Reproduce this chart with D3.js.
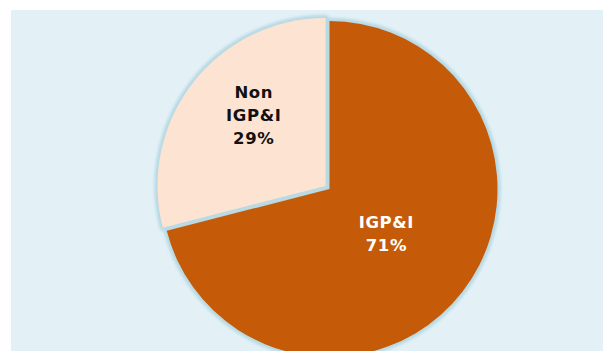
<!DOCTYPE html>
<html>
<head>
<meta charset="utf-8">
<script src="https://cdn.jsdelivr.net/npm/d3@7"></script>
<style>
  html, body { margin: 0; padding: 0; background: #ffffff; }
  svg { display: block; }
</style>
</head>
<body>
<svg id="chart" width="603" height="351"></svg>
<script>
// Share of the total: IGP&I vs Non IGP&I
const categories = ["IGP&I", "Non IGP&I"];
const shares = [71, 29];
const labelLines = [["IGP&I", "71%"], ["Non", "IGP&I", "29%"]];

const sliceColors = ["#c55a08", "#fde4d2"];
const textColors = ["#ffffff", "#111111"];

const W = 603, H = 351;
const svg = d3.select("#chart");

// panel background
svg.append("rect")
  .attr("x", 11).attr("y", 10)
  .attr("width", W - 11).attr("height", H - 10)
  .attr("fill", "#e3f1f7");

const cx = 329.5, cy = 189, R = 168;
const explode = [0, 5];

const defs = svg.append("defs");
const glow = defs.append("filter").attr("id", "glow")
  .attr("x", "-20%").attr("y", "-20%").attr("width", "140%").attr("height", "140%");
glow.append("feGaussianBlur").attr("stdDeviation", 1.6);

const pie = d3.pie().sort(null).value(d => d)
  .startAngle(0).endAngle(2 * Math.PI);
const arcs = pie(shares);
const arc = d3.arc().innerRadius(0).outerRadius(R);

function offsetOf(d, i) {
  const mid = (d.startAngle + d.endAngle) / 2;
  return [Math.sin(mid) * explode[i], -Math.cos(mid) * explode[i]];
}

const g = svg.append("g").attr("transform", `translate(${cx},${cy})`);

// soft light-blue rim under each slice
g.selectAll("path.rim")
  .data(arcs)
  .join("path")
  .attr("class", "rim")
  .attr("transform", (d, i) => { const o = offsetOf(d, i); return `translate(${o[0]},${o[1]})`; })
  .attr("d", arc)
  .attr("fill", "#b8d9e3")
  .attr("stroke", "#b8d9e3")
  .attr("stroke-width", 6.5)
  .attr("stroke-linejoin", "round")
  .attr("filter", "url(#glow)");

// slice fills
g.selectAll("path.slice")
  .data(arcs)
  .join("path")
  .attr("class", "slice")
  .attr("transform", (d, i) => { const o = offsetOf(d, i); return `translate(${o[0]},${o[1]})`; })
  .attr("d", arc)
  .attr("fill", (d, i) => sliceColors[i]);

// label anchors: distance from centre and angle nudge for each slice
const labelRadius = [72, 101];
const labelNudge = [0, 0.12];
const lineH = 22.8;

arcs.forEach((d, i) => {
  const o = offsetOf(d, i);
  const a = (d.startAngle + d.endAngle) / 2 + labelNudge[i];
  const lx = o[0] + Math.sin(a) * labelRadius[i];
  const ly = o[1] - Math.cos(a) * labelRadius[i];
  const lines = labelLines[i];
  const t = g.append("text")
    .attr("x", lx).attr("y", ly)
    .attr("text-anchor", "middle")
    .attr("font-family", "DejaVu Sans, Verdana, sans-serif")
    .attr("font-weight", "bold")
    .attr("font-size", 16.5)
    .attr("letter-spacing", 0.6)
    .attr("fill", textColors[i]);
  lines.forEach((s, k) => {
    t.append("tspan")
      .attr("x", lx)
      .attr("y", ly + (k - (lines.length - 1) / 2) * lineH + 6)
      .text(s);
  });
});
</script>
</body>
</html>
